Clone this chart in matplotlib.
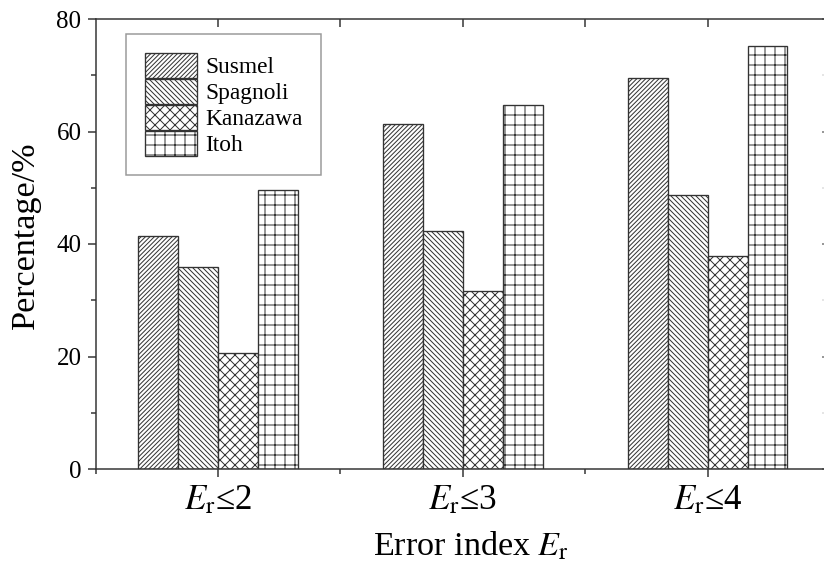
import numpy as np
import matplotlib
matplotlib.use("Agg")
import matplotlib.pyplot as plt
from matplotlib.ticker import MultipleLocator, FixedLocator, NullFormatter

# data
categories = [r"$E_{\mathrm{r}}$≤2", r"$E_{\mathrm{r}}$≤3", r"$E_{\mathrm{r}}$≤4"]
methods = ["Susmel", "Spagnoli", "Kanazawa", "Itoh"]
susmel = [41.4, 61.3, 69.6]
spagnoli = [36.0, 42.4, 48.8]
kanazawa = [20.7, 31.7, 37.9]
itoh = [49.6, 64.8, 75.2]
hatches = ["/" * 9, "\\" * 8, "xxxx", "++"]

plt.rcParams["font.family"] = ["Liberation Serif", "DejaVu Serif"]
plt.rcParams["mathtext.fontset"] = "stix"
plt.rcParams["hatch.linewidth"] = 0.6
plt.rcParams["hatch.color"] = "#333333"

dpi = 120
fig = plt.figure(figsize=(824 / dpi, 570 / dpi), dpi=dpi)
ax = fig.add_axes([95.6 / 824, 1 - 469 / 570, 734.4 / 824, 450 / 570])

x = np.arange(1, len(categories) + 1)
w = 0.163
series = [susmel, spagnoli, kanazawa, itoh]
for i, (name, vals, h) in enumerate(zip(methods, series, hatches)):
    ax.bar(x + (i - 1.5) * w, vals, w, facecolor="white", edgecolor="#333333",
           linewidth=0.8, hatch=h, label=name)

ax.set_xlim(0.5, 3.5)
ax.set_ylim(0, 80)
ax.set_xticks(x)
ax.set_xticklabels(categories, fontsize=21)
ax.xaxis.set_minor_locator(FixedLocator([0.5, 1.5, 2.5, 3.5]))
ax.yaxis.set_major_locator(MultipleLocator(20))
ax.yaxis.set_minor_locator(MultipleLocator(10))
ax.tick_params(axis="y", labelsize=15)
ax.tick_params(which="major", direction="out", length=5, width=0.9, color="#333333")
ax.tick_params(which="minor", direction="out", length=3, width=0.9, color="#333333")
ax.tick_params(axis="x", pad=4)
for s in ["left", "bottom", "top"]:
    ax.spines[s].set_color("#333333")
    ax.spines[s].set_linewidth(0.9)
ax.spines["right"].set_visible(False)

# inward ticks on top and (faded) right
top = ax.secondary_xaxis("top")
top.set_xticks(x)
top.xaxis.set_major_formatter(NullFormatter())
top.xaxis.set_minor_locator(FixedLocator([1.5, 2.5]))
top.tick_params(which="both", direction="in", length=5, width=0.9, color="#333333")
top.spines["top"].set_visible(False)

right = ax.secondary_yaxis("right")
right.yaxis.set_major_locator(MultipleLocator(20))
right.yaxis.set_minor_locator(MultipleLocator(10))
right.yaxis.set_major_formatter(NullFormatter())
right.tick_params(which="major", direction="in", length=5, width=0.9, color="#777777")
right.tick_params(which="minor", direction="in", length=5, width=0.9, color="#dddddd")
right.spines["right"].set_visible(False)

ax.set_ylabel("Percentage/%", fontsize=20.5)
ax.set_xlabel(r"Error index $E_{\mathrm{r}}$", fontsize=20.5)
ax.yaxis.set_label_coords(-0.075, 0.52)
ax.xaxis.set_label_coords(0.511, -0.135)

leg = ax.legend(loc="upper left", bbox_to_anchor=(0.0414, 0.9667), borderaxespad=0,
                fontsize=14, handlelength=2.25, handleheight=1.3, labelspacing=0.02,
                handletextpad=0.35, borderpad=0.8, fancybox=False, framealpha=1)
leg.get_frame().set_edgecolor("#999999")
leg.get_frame().set_linewidth(0.9)

fig.savefig("out.png", dpi=dpi)
